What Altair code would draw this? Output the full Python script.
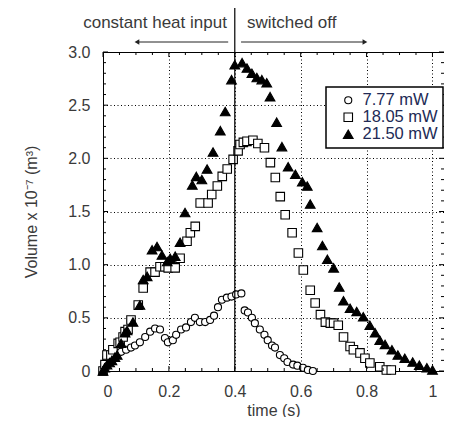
import altair as alt
import pandas as pd

# ---------------- data ----------------
series_names = ["7.77 mW", "18.05 mW", "21.50 mW"]

t_777 = [0.01, 0.024, 0.04, 0.055, 0.07, 0.085, 0.097, 0.112, 0.128, 0.143,
         0.158, 0.173, 0.188, 0.197, 0.212, 0.222, 0.237, 0.252, 0.267, 0.279,
         0.294, 0.31, 0.325, 0.337, 0.349, 0.361, 0.376, 0.39, 0.404, 0.42,
         0.43, 0.44, 0.452, 0.461, 0.476, 0.49, 0.50, 0.513, 0.522, 0.537,
         0.55, 0.56, 0.577, 0.59, 0.607, 0.622, 0.637]
v_777 = [0.12, 0.15, 0.17, 0.18, 0.20, 0.22, 0.24, 0.27, 0.32, 0.37,
         0.40, 0.39, 0.31, 0.27, 0.29, 0.34, 0.39, 0.41, 0.46, 0.50,
         0.46, 0.46, 0.48, 0.52, 0.60, 0.67, 0.69, 0.70, 0.72, 0.73,
         0.57, 0.55, 0.50, 0.45, 0.39, 0.34, 0.29, 0.24, 0.22, 0.15,
         0.12, 0.085, 0.06, 0.05, 0.03, 0.01, 0.0]

t_1805 = [0.0, 0.006, 0.012, 0.024, 0.03, 0.046, 0.052, 0.061, 0.067, 0.076,
          0.085, 0.107, 0.122, 0.143, 0.158, 0.173, 0.188, 0.198, 0.219, 0.234,
          0.255, 0.265, 0.28, 0.295, 0.319, 0.33, 0.347, 0.362, 0.377, 0.395,
          0.41, 0.416, 0.426, 0.437, 0.455, 0.47, 0.49, 0.508, 0.523, 0.538,
          0.553, 0.574, 0.593, 0.608, 0.629, 0.644, 0.66, 0.675, 0.69, 0.70,
          0.714, 0.73, 0.75, 0.76, 0.78, 0.795, 0.81, 0.84, 0.86, 0.875]
v_1805 = [0.0, 0.06, 0.15, 0.15, 0.20, 0.26, 0.27, 0.32, 0.37, 0.39,
          0.48, 0.62, 0.78, 0.93, 0.93, 0.98, 0.98, 0.97, 0.97, 1.06,
          1.22, 1.30, 1.36, 1.58, 1.58, 1.66, 1.74, 1.83, 1.90, 1.99,
          2.07, 2.13, 2.15, 2.16, 2.17, 2.14, 2.10, 1.96, 1.82, 1.64,
          1.47, 1.30, 1.11, 0.95, 0.76, 0.64, 0.53, 0.46, 0.45, 0.45,
          0.43, 0.32, 0.23, 0.20, 0.17, 0.12, 0.075, 0.04, 0.01, 0.01]

t_2150 = [0.0, 0.005, 0.012, 0.02, 0.027, 0.036, 0.043, 0.055, 0.067, 0.073,
          0.091, 0.112, 0.122, 0.134, 0.149, 0.164, 0.179, 0.195, 0.204, 0.219,
          0.234, 0.249, 0.271, 0.283, 0.30, 0.316, 0.334, 0.356, 0.371, 0.39,
          0.40, 0.422, 0.437, 0.452, 0.467, 0.482, 0.497, 0.507, 0.527, 0.543,
          0.562, 0.584, 0.605, 0.62, 0.629, 0.65, 0.666, 0.681, 0.70, 0.717,
          0.73, 0.75, 0.77, 0.79, 0.81, 0.826, 0.84, 0.856, 0.877, 0.895,
          0.916, 0.94, 0.96, 0.983, 1.0]
v_2150 = [0.0, 0.03, 0.06, 0.08, 0.10, 0.13, 0.15, 0.26, 0.36, 0.38,
          0.46, 0.62, 0.86, 0.89, 1.14, 1.17, 1.09, 1.03, 1.06, 1.08,
          1.21, 1.49, 1.75, 1.83, 1.80, 1.90, 2.06, 2.26, 2.44, 2.74,
          2.88, 2.90, 2.85, 2.80, 2.76, 2.74, 2.71, 2.58, 2.34, 2.11,
          1.92, 1.85, 1.78, 1.74, 1.57, 1.35, 1.18, 1.05, 0.97, 0.79,
          0.66, 0.59, 0.56, 0.51, 0.43, 0.36, 0.29, 0.25, 0.20, 0.15,
          0.12, 0.085, 0.055, 0.03, 0.01]

x_major = [0, 0.2, 0.4, 0.6, 0.8, 1.0]
x_minor = [0.05, 0.1, 0.15, 0.25, 0.3, 0.35, 0.45, 0.5, 0.55, 0.65, 0.7,
           0.75, 0.85, 0.9, 0.95]
y_major = [0, 0.5, 1.0, 1.5, 2.0, 2.5, 3.0]
y_minor = [0.1, 0.2, 0.3, 0.4, 0.6, 0.7, 0.8, 0.9, 1.1, 1.2, 1.3, 1.4,
           1.6, 1.7, 1.8, 1.9, 2.1, 2.2, 2.3, 2.4, 2.6, 2.7, 2.8, 2.9]

switch_t = [0.4]
switch_line = [0.0, 3.42]
notes = ["constant heat input", "switched off"]
notes_t = [0.376, 0.437]
notes_align_y = 3.226
arrow_y = 3.094
arrow_left = [0.38, 0.103]
arrow_right = [0.419, 0.795]

# ---------------- layout ----------------
W, H = 341, 319
FONT = "Liberation Sans"
TXT = "#3a3a3a"

rows = []
for name, ts, vs in [(series_names[0], t_777, v_777),
                     (series_names[1], t_1805, v_1805),
                     (series_names[2], t_2150, v_2150)]:
    for t, v in zip(ts, vs):
        rows.append({"series": name, "t": t, "v": v})
df = pd.DataFrame(rows)
df["idx"] = range(len(df))

xscale = alt.Scale(domain=[0, 1.035], nice=False, zero=False)
yscale = alt.Scale(domain=[0, 3], nice=False, zero=False)

pts = alt.Chart(df).mark_point(filled=True, opacity=1, strokeWidth=1.1).encode(
    x=alt.X("t:Q", scale=xscale,
            axis=alt.Axis(values=x_major, title="time (s)", grid=True,
                          gridDash=[1, 2.5], gridColor="black", gridOpacity=1,
                          ticks=False, domain=False, labelPadding=12,
                          labelExpr="datum.value == 0 ? '0' : datum.value == 1 ? '1' : format(datum.value, '.1f')",
                          titlePadding=3)),
    y=alt.Y("v:Q", scale=yscale,
            axis=alt.Axis(values=y_major, title="Volume x 10⁻⁷ (m³)", grid=True,
                          gridDash=[1, 2.5], gridColor="black", gridOpacity=1,
                          ticks=False, domain=False, labelPadding=13,
                          labelExpr="datum.value == 0 ? '0' : format(datum.value, '.1f')",
                          titlePadding=28)),
    shape=alt.Shape("series:N", scale=alt.Scale(domain=series_names,
                    range=["circle", "square", "triangle-up"]), title=None),
    fill=alt.Fill("series:N", scale=alt.Scale(domain=series_names,
                  range=["white", "white", "black"]), title=None),
    stroke=alt.Stroke("series:N", scale=alt.Scale(domain=series_names,
                      range=["black", "black", "black"]), title=None),
    size=alt.Size("series:N", scale=alt.Scale(domain=series_names,
                  range=[50, 95, 115]), title=None),
    order=alt.Order("idx:Q"),
)

def ticks_df(vals):
    return pd.DataFrame({"t": vals, "v": vals})

def xticks(vals, L):
    d = ticks_df(vals)
    b = alt.Chart(d).mark_rule(color="black", strokeWidth=1).encode(
        x=alt.X("t:Q", scale=xscale), y=alt.value(H), y2=alt.value(H - L))
    t = alt.Chart(d).mark_rule(color="black", strokeWidth=1).encode(
        x=alt.X("t:Q", scale=xscale), y=alt.value(0), y2=alt.value(L))
    return [b, t]

def yticks(vals, L):
    d = ticks_df(vals)
    l = alt.Chart(d).mark_rule(color="black", strokeWidth=1).encode(
        y=alt.Y("v:Q", scale=yscale), x=alt.value(0), x2=alt.value(L))
    r = alt.Chart(d).mark_rule(color="black", strokeWidth=1).encode(
        y=alt.Y("v:Q", scale=yscale), x=alt.value(W), x2=alt.value(W - L))
    return [l, r]

tick_layers = xticks(x_major, 5) + xticks(x_minor, 3) + yticks(y_major, 5) + yticks(y_minor, 3)

vline = alt.Chart(pd.DataFrame({"t": switch_t, "v": [switch_line[0]], "v2": [switch_line[1]]})).mark_rule(
    color="black", strokeWidth=1.2).encode(
    x=alt.X("t:Q", scale=xscale),
    y=alt.Y("v:Q", scale=yscale), y2="v2:Q")

note_l = alt.Chart(pd.DataFrame({"t": [notes_t[0]], "v": [notes_align_y], "txt": [notes[0]]})).mark_text(
    align="right", baseline="alphabetic", font=FONT, fontSize=17, color=TXT).encode(
    x=alt.X("t:Q", scale=xscale), y=alt.Y("v:Q", scale=yscale), text="txt:N")
note_r = alt.Chart(pd.DataFrame({"t": [notes_t[1]], "v": [notes_align_y], "txt": [notes[1]]})).mark_text(
    align="left", baseline="alphabetic", font=FONT, fontSize=17, color=TXT).encode(
    x=alt.X("t:Q", scale=xscale), y=alt.Y("v:Q", scale=yscale), text="txt:N")

arr_df = pd.DataFrame({"t": [arrow_left[0], arrow_right[0]],
                       "t2": [arrow_left[1], arrow_right[1]],
                       "v": [arrow_y, arrow_y]})
arrows = alt.Chart(arr_df).mark_rule(color="#222", strokeWidth=1).encode(
    x=alt.X("t:Q", scale=xscale), x2="t2:Q",
    y=alt.Y("v:Q", scale=yscale))
head_l = alt.Chart(pd.DataFrame({"t": [arrow_left[1]], "v": [arrow_y]})).mark_point(
    shape="triangle-left", filled=True, color="#222", opacity=1, size=30).encode(
    x=alt.X("t:Q", scale=xscale), y=alt.Y("v:Q", scale=yscale))
head_r = alt.Chart(pd.DataFrame({"t": [arrow_right[1]], "v": [arrow_y]})).mark_point(
    shape="triangle-right", filled=True, color="#222", opacity=1, size=30).encode(
    x=alt.X("t:Q", scale=xscale), y=alt.Y("v:Q", scale=yscale))

chart = alt.layer(pts, *tick_layers, vline, arrows, head_l, head_r, note_l, note_r).properties(
    width=W, height=H,
    autosize=alt.AutoSizeParams(type="none"),
    padding={"left": 95, "top": 44, "right": 0, "bottom": 46},
).configure_view(stroke="black", strokeWidth=1).configure_axis(
    labelFont=FONT, labelFontSize=16, labelColor=TXT,
    titleFont=FONT, titleFontSize=16, titleColor=TXT, titleFontWeight="normal",
).configure_legend(
    orient="none", legendX=223, legendY=35,
    strokeColor="black", strokeWidth=1.5, fillColor="white", padding=5,
    symbolOffset=9, labelOffset=6, rowPadding=0,
    labelFont=FONT, labelFontSize=16.5, labelColor="#222a55",
    symbolStrokeWidth=1.1,
)

chart.save("out.html", embed_options={"renderer": "svg", "actions": False})
